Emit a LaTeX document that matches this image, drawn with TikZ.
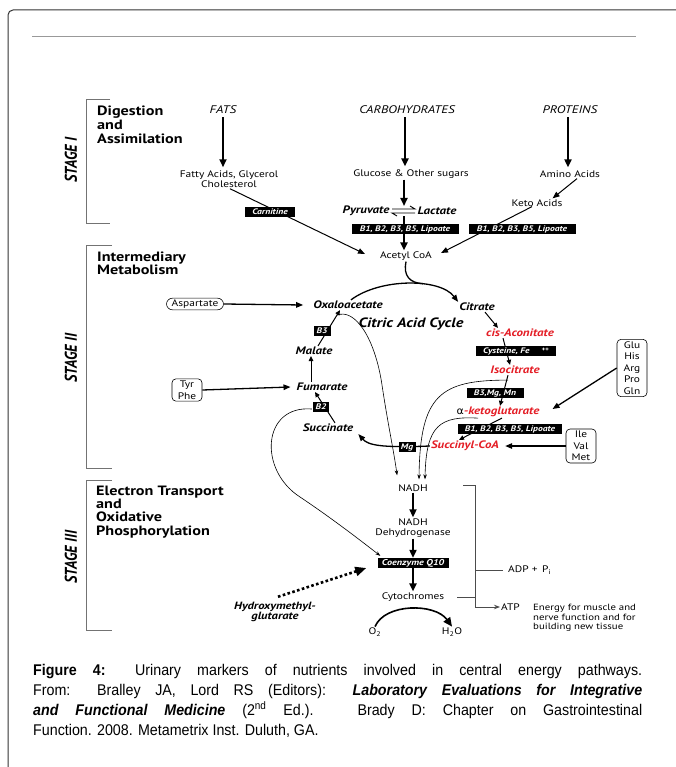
\documentclass[tikz,border=0pt]{standalone}
\usepackage{fontspec}
\setmainfont[FakeStretch=1.2]{PT Sans}
\newfontfamily\capfont[FakeStretch=0.92]{Liberation Sans}
\newfontfamily\stagefont[FakeStretch=0.85]{PT Sans}
\newfontfamily\grkfont[FakeStretch=1.1]{DejaVu Sans}
\usetikzlibrary{arrows.meta,calc}
\definecolor{redm}{RGB}{228,30,38}
\pgfdeclarelayer{bg}
\pgfsetlayers{bg,main}
\tikzset{
  txt/.style={inner sep=1pt, font=\fontsize{9.5}{10.2}\selectfont, align=center},
  met/.style={inner sep=1pt, font=\fontsize{10.8}{11.5}\selectfont\bfseries\itshape},
  redmet/.style={met, text=redm},
  vbox/.style={fill=black, text=white, inner xsep=1.5pt, inner ysep=1pt, text height=6.2pt, text depth=1.7pt, font=\fontsize{8}{9}\selectfont\bfseries\itshape},
  rbox/.style={draw, rounded corners=4pt, line width=0.6pt, inner xsep=3pt, inner ysep=2pt, font=\fontsize{9.5}{11.6}\selectfont, align=center},
  hd/.style={anchor=base west, inner sep=0pt, font=\fontsize{13.5}{14}\selectfont\bfseries},
  stg/.style={rotate=90, inner sep=0pt, font=\stagefont\fontsize{17}{18}\selectfont\bfseries\itshape},
  src/.style={inner sep=1pt, font=\fontsize{11}{12}\selectfont\itshape},
  capl/.style={anchor=base west, inner sep=0pt, font=\capfont\fontsize{15.5}{20}\selectfont},
  bigarr/.style={line width=1.9pt, -{Triangle[length=8pt,width=7pt]}},
  medarr/.style={line width=1.3pt, -{Triangle[length=7pt,width=5.5pt]}},
  cycarr/.style={line width=1pt, -{Triangle[length=5pt,width=4.5pt]}},
  thinarr/.style={line width=0.6pt, -{Stealth[length=5pt,width=3.5pt]}},
  brk/.style={line width=0.9pt, draw=black!55},
  etc/.style={line width=0.9pt, draw=black!70},
}
\begin{document}
\begin{tikzpicture}[x=1pt,y=-1pt]
\useasboundingbox (0,0) rectangle (676,767);
% frame and rule
\draw[black!80, line width=1pt, rounded corners=5pt] (8,767) -- (8,10) -- (676,10);
\draw[black!40, line width=1pt] (32,37) -- (636,37);

% stage brackets
\draw[brk] (110,99) -- (86,99) -- (86,223) -- (110,223);
\draw[brk] (112,245) -- (86,245) -- (86,468) -- (112,468);
\draw[brk] (112,480) -- (86,480) -- (86,630) -- (112,630);
\node[stg] (s1) at (71,160) {STAGE I};
\node[stg] (s2) at (71,358) {STAGE II};
\node[stg] (s3) at (71,557) {STAGE III};

% headings
\node[hd] (h1a) at (97,115.5) {Digestion};
\node[hd] (h1b) at (97,129.5) {and};
\node[hd] (h1c) at (97,143.5) {Assimilation};
\node[hd] (h2a) at (97,261.5) {Intermediary};
\node[hd] (h2b) at (97,274.5) {Metabolism};
\node[hd] (h3a) at (96,495) {Electron Transport};
\node[hd] (h3b) at (96,508) {and};
\node[hd] (h3c) at (96,521.5) {Oxidative};
\node[hd] (h3d) at (96,535) {Phosphorylation};

% ---------- Stage I ----------
\node[src] (fats) at (223,110) {FATS};
\node[src] (carbs) at (407,110) {CARBOHYDRATES};
\node[src] (prot) at (570,110) {PROTEINS};
\node[txt] (fatty) at (229,179) {Fatty Acids, Glycerol\\Cholesterol};
\node[txt] (gluc) at (411,174) {Glucose \& Other sugars};
\node[txt] (amino) at (570,174) {Amino Acids};
\node[met] (pyr) at (366,211) {Pyruvate};
\node[met] (lac) at (437,211) {Lactate};
\coordinate (eq) at (404,211);
\node[txt] (keto) at (537,203) {Keto Acids};
\node[txt] (acoa) at (406,256) {Acetyl CoA};
\node[vbox, minimum width=50pt] (carn) at (270,212) {Carnitine};
\node[vbox, minimum width=107pt] (bb1) at (405,229) {B1, B2, B3, B5, Lipoate};
\node[vbox, minimum width=107pt] (bb2) at (522,229) {B1, B2, B3, B5, Lipoate};

% ---------- Stage II ----------
\node[rbox, minimum width=57pt, rounded corners=6pt, inner ysep=1.5pt] (asp) at (195,304) {Aspartate};
\node[met] (oxa) at (348,305) {Oxaloacetate};
\node[met] (cit) at (477,307) {Citrate};
\node[met, font=\fontsize{13.5}{14}\selectfont\bfseries\itshape] (cac) at (411,324) {Citric Acid Cycle};
\node[redmet] (cis) at (520,333) {cis-Aconitate};
\node[vbox, minimum width=80pt] (cys) at (516,351) {Cysteine, Fe\hspace{12pt}\raisebox{1.5pt}{\fontsize{6}{6}\selectfont ++}};
\node[redmet] (iso) at (515,370) {Isocitrate};
\node[vbox, minimum width=57pt] (b3mg) at (495,393) {B3,Mg, Mn};
\node[met] (akg) at (498,412) {{\grkfont\mdseries\upshape\fontsize{10}{10}\selectfont α}\textcolor{redm}{-ketoglutarate}};
\node[vbox, minimum width=104pt] (bb3) at (510,429) {B1, B2, B3, B5, Lipoate};
\node[redmet] (sca) at (465,446) {Succinyl-CoA};
\node[rbox, minimum width=30pt] (glu) at (632,368) {Glu\\His\\Arg\\Pro\\Gln};
\node[rbox, minimum width=30pt] (ivm) at (581,446) {Ile\\Val\\Met};
\node[vbox, minimum width=17pt] (mg) at (407,447) {Mg};
\node[met] (suc) at (328,428) {Succinate};
\node[vbox, minimum width=16pt] (b2) at (321,407) {B2};
\node[met] (fum) at (322,387) {Fumarate};
\node[met] (mal) at (314,351) {Malate};
\node[vbox, minimum width=17pt] (b3) at (322,331) {B3};
\node[rbox, minimum width=30pt] (tyr) at (187,390) {Tyr\\Phe};

% ---------- Stage III ----------
\node[txt] (nadh) at (413,488) {NADH};
\node[txt] (ndh) at (413,528) {NADH\\Dehydrogenase};
\node[vbox, minimum width=71pt, font=\fontsize{8.5}{9}\selectfont\bfseries\itshape] (coq) at (413,563) {Coenzyme Q10};
\node[txt] (cyto) at (413,597) {Cytochromes};
\node[txt] (o2) at (375,632) {O\textsubscript{2}};
\node[txt] (h2o) at (452,632) {H\textsubscript{2}O};
\node[txt, anchor=west] (atp) at (500,607) {ATP};
\node[txt, anchor=west] (adp) at (507,570) {ADP +\, P\textsubscript{i}};
\node[txt, anchor=west, align=left, font=\fontsize{9}{9.6}\selectfont] (energy) at (532,618) {Energy for muscle and\\nerve function and for\\building new tissue};
\node[met, align=center, font=\fontsize{10.5}{10.5}\selectfont\bfseries\itshape] (hmg) at (275,612) {Hydroxymethyl-\\glutarate};
\coordinate (bt) at (463,485);
\coordinate (bx) at (475,485);

% ---------- caption ----------
\node[capl] (cap1) at (33,675) {\makebox[609pt][s]{\textbf{Figure 4:} Urinary markers of nutrients involved in central energy pathways.}};
\node[capl] (cap2) at (33,695) {\makebox[609pt][s]{From: Bralley JA, Lord RS (Editors): \textbf{\textit{Laboratory Evaluations for Integrative}}}};
\node[capl] (cap3) at (33,715) {\makebox[609pt][s]{\textbf{\textit{and Functional Medicine}} (2\textsuperscript{nd} Ed.). Brady D: Chapter on Gastrointestinal}};
\node[capl] (cap4) at (33,735) {Function. 2008. Metametrix Inst. Duluth, GA.};

% ---------- connectors ----------
\begin{pgfonlayer}{bg}
% stage I
\draw[bigarr, shorten <=2pt, shorten >=2pt] (fats.south) -- (fats.south |- fatty.north);
\draw[bigarr, shorten <=2pt, shorten >=2pt] ($(carbs.south)+(-2,0)$) -- ($(carbs.south |- gluc.north)+(-2,0)$);
\draw[bigarr, shorten <=2pt, shorten >=2pt] ($(prot.south)+(-2,0)$) -- ($(prot.south |- amino.north)+(-2,0)$);
\draw[bigarr] (gluc.south -| eq) -- ($(eq)+(0,-5)$);
\draw[bigarr] ($(eq)+(0,5)$) -- (acoa.north -| eq);
\draw[line width=0.9pt] ($(eq)+(-12,-2)$) -- ($(eq)+(11,-2)$) -- ($(eq)+(6,-5)$);
\draw[line width=0.9pt] ($(eq)+(11,2)$) -- ($(eq)+(-12,2)$) -- ($(eq)+(-7,5)$);
\draw[medarr, line width=1pt] ($(amino.south)+(7,0)$) -- ($(keto.north east)+(-11,0)$);
\draw[medarr, line width=1pt] ($(fatty.south)+(1,0)$) -- ($(acoa.west)+(-14,-2)$);
\draw[medarr, line width=1pt] ($(keto.south)+(-5,-1)$) -- ($(acoa.east)+(8,-3)$);
% cycle
\draw[medarr] (asp.east) -- ($(oxa.west)+(-9,0)$);
\draw[medarr] (tyr.east) -- ($(fum.west)+(-5,0)$);
\draw[medarr] (oxa.60) .. controls (380,278) and (440,278) .. (cit.north west);
\draw[line width=1.3pt] (acoa.south) .. controls (403,276) and (410,283) .. (423,283.7);
\draw[cycarr] ($(cit.south)+(8,0)$) -- ($(cis.north west)+(13,0)$);
\draw[cycarr] ($(cis.south)+(-17,0)$) -- ($(iso.north)+(-5,0)$);
\draw[cycarr] ($(iso.south)+(-7,0)$) -- ($(akg.north)+(2,0)$);
\draw[cycarr] ($(akg.south)+(4,0)$) -- ($(sca.north)+(-6,0)$);
\draw[medarr] (glu.west) -- ($(akg.east)+(12,-3)$);
\draw[medarr] (ivm.west) -- ($(sca.east)+(5,0)$);
\draw[medarr] (sca.west) .. controls (380,448) and (368,445) .. ($(suc.south east)+(4,1)$);
\draw[cycarr] ($(suc.north)+(7,0)$) -- ($(fum.south)+(-7,0)$);
\draw[cycarr] ($(fum.north)+(-11,0)$) -- ($(mal.south)+(-3,0)$);
\draw[cycarr] ($(mal.north)+(4,0)$) -- ($(oxa.south)+(-8,0)$);
% long thin curves
\draw[thinarr] ($(oxa.south)+(-11,5)$) .. controls (355,308) and (375,338) .. (382,385) .. controls (388,425) and (394,452) .. ($(nadh.north west)+(0,-8)$);
\draw[thinarr] ($(iso.south)+(-7,5)$) .. controls (440,380) and (420,395) .. ($(nadh.north)+(6,-4)$);
\draw[thinarr] ($(akg.south)+(-20,0)$) .. controls (440,416) and (426,425) .. ($(nadh.north)+(12,-4)$);
\draw[thinarr] ($(b2.west)+(-1,2)$) .. controls (262,405) and (258,470) .. (300,497) .. controls (330,517) and (360,540) .. ($(coq.north west)+(3,-2)$);
% stage III
\draw[bigarr] (nadh.south) -- (ndh.north);
\draw[bigarr] (ndh.south) -- (coq.north);
\draw[bigarr] (coq.south) -- (cyto.north);
\draw[line width=1.6pt, -{Triangle[length=9pt,width=8pt]}] (o2.north) .. controls (385,603) and (435,603) .. (h2o.north);
\draw[etc] (bt) -- (bx) -- (bx |- atp.west);
\draw[etc, -{Stealth[length=6pt,width=4.5pt]}] (bx |- atp.west) -- (atp.west);
\draw[etc] ($(cyto.east)+(12,0)$) -- (cyto.east -| bx);
\draw[etc] (bx |- adp.west) -- ($(adp.west)+(-4,0)$);
\draw[line width=2.6pt, dash pattern=on 2.6pt off 2.4pt, -{Triangle[length=11pt,width=9pt]}] ($(hmg.north)+(3,-4)$) -- ($(coq.west)+(-11,5)$);
\end{pgfonlayer}
\end{tikzpicture}
\end{document}
